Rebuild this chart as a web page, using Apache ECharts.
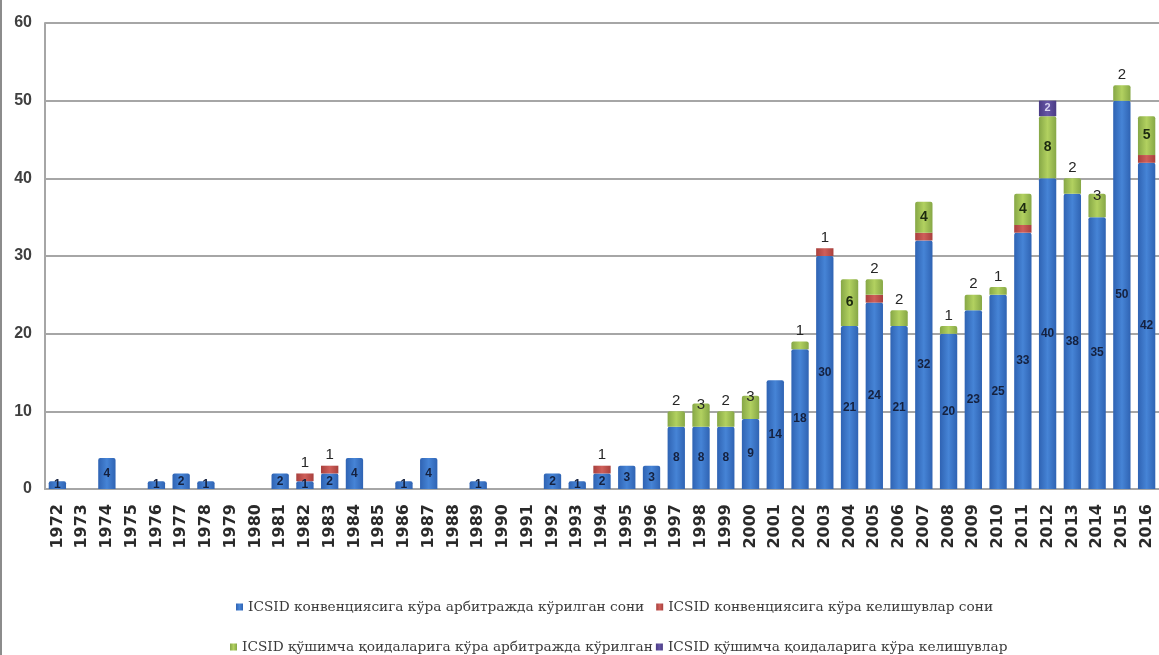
<!DOCTYPE html>
<html>
<head>
<meta charset="utf-8">
<script src="https://cdn.jsdelivr.net/npm/echarts@6/dist/echarts.min.js"></script>
<style>
  html, body { margin: 0; padding: 0; background: #ffffff; }
  #chart { width: 1159px; height: 655px; }
  #frame { position: absolute; left: 0; top: 0; width: 2px; height: 655px; background: #8c8c8c; }
</style>
</head>
<body>
<div id="chart"></div>
<div id="frame"></div>
<script>
// Years on the category axis
const years = ['1972','1973','1974','1975','1976','1977','1978','1979','1980','1981',
  '1982','1983','1984','1985','1986','1987','1988','1989','1990','1991',
  '1992','1993','1994','1995','1996','1997','1998','1999','2000','2001',
  '2002','2003','2004','2005','2006','2007','2008','2009','2010','2011',
  '2012','2013','2014','2015','2016'];

// Series names
const seriesNames = [
  'ICSID конвенциясига кўра арбитражда кўрилган сони',
  'ICSID конвенциясига кўра келишувлар сони',
  'ICSID қўшимча қоидаларига кўра арбитражда кўрилган',
  'ICSID қўшимча қоидаларига кўра келишувлар'
];

// Cases heard under the ICSID Convention
const conventionArbitration = [1,0,4,0,1,2,1,0,0,2, 1,2,4,0,1,4,0,1,0,0,
  2,1,2,3,3,8,8,8,9,14, 18,30,21,24,21,32,20,23,25,33, 40,38,35,50,42];
// Settlements under the ICSID Convention
const conventionSettlements = [0,0,0,0,0,0,0,0,0,0, 1,1,0,0,0,0,0,0,0,0,
  0,0,1,0,0,0,0,0,0,0, 0,1,0,1,0,1,0,0,0,1, 0,0,0,0,1];
// Cases heard under the Additional Facility Rules
const additionalArbitration = [0,0,0,0,0,0,0,0,0,0, 0,0,0,0,0,0,0,0,0,0,
  0,0,0,0,0,2,3,2,3,0, 1,0,6,2,2,4,1,2,1,4, 8,2,3,2,5];
// Settlements under the Additional Facility Rules
const additionalSettlements = [0,0,0,0,0,0,0,0,0,0, 0,0,0,0,0,0,0,0,0,0,
  0,0,0,0,0,0,0,0,0,0, 0,0,0,0,0,0,0,0,0,0, 2,0,0,0,0];

const allSeries = [conventionArbitration, conventionSettlements, additionalArbitration, additionalSettlements];

// Is series k the highest non-empty segment of column i?
function isTop(k, i) {
  for (let j = k + 1; j < allSeries.length; j++) if (allSeries[j][i] > 0) return false;
  return true;
}

const topLabel = {
  show: true, position: 'top', distance: 3,
  color: '#262626', fontSize: 15, fontFamily: 'Liberation Sans'
};

function hbar(c1, c2) {
  return new echarts.graphic.LinearGradient(0, 0, 1, 0, [
    { offset: 0, color: c1 }, { offset: 0.5, color: c2 }, { offset: 1, color: c1 }
  ]);
}

const blueData = conventionArbitration.map(v => v > 0 ? v : '-');
const redData = conventionSettlements.map((v, i) => {
  if (!(v > 0)) return '-';
  return isTop(1, i) ? { value: v, label: topLabel } : { value: v, label: { show: false } };
});
const greenData = additionalArbitration.map(v => {
  if (!(v > 0)) return '-';
  if (v >= 4) return { value: v, label: { show: true, position: 'inside', color: '#1c2a10', fontSize: 14, fontWeight: 'bold' } };
  if (v === 3) return { value: v, label: Object.assign({}, topLabel, { position: 'insideTop', offset: [0, -9] }) };
  return { value: v, label: topLabel };
});
const purpleData = additionalSettlements.map(v => v > 0 ? v : '-');

const legendText = { fontFamily: 'DejaVu Serif', fontSize: 13.7, color: '#3a3a3a' };

const chart = echarts.init(document.getElementById('chart'));
chart.setOption({
  animation: false,
  backgroundColor: '#ffffff',
  grid: { left: 45, top: 23, width: 1116, height: 466, containLabel: false },
  legend: [
    {
      data: [seriesNames[0], seriesNames[1]],
      top: 595, left: 231, itemWidth: 7, itemHeight: 7, itemGap: 12,
      icon: 'rect', textStyle: legendText
    },
    {
      data: [seriesNames[2], seriesNames[3]],
      top: 635, left: 225, itemWidth: 7, itemHeight: 7, itemGap: 3,
      icon: 'rect', textStyle: legendText
    }
  ],
  xAxis: {
    type: 'category',
    data: years,
    axisLine: { show: true, lineStyle: { color: '#a6a6a6', width: 2 } },
    axisTick: { show: false },
    axisLabel: {
      rotate: 90, margin: 15, interval: 0,
      color: '#2a2a2a', fontSize: 16, fontWeight: 'bold', fontFamily: 'DejaVu Sans'
    }
  },
  yAxis: {
    type: 'value',
    min: 0, max: 60, interval: 10,
    axisLine: { show: true, lineStyle: { color: '#a6a6a6', width: 2 } },
    axisTick: { show: false },
    splitLine: { lineStyle: { color: '#a6a6a6', width: 2 } },
    axisLabel: {
      margin: 13, color: '#404040', fontSize: 16, fontWeight: 'bold', fontFamily: 'Liberation Sans'
    }
  },
  series: [
    {
      name: seriesNames[0], type: 'bar', stack: 'cases', barWidth: '70%',
      data: blueData,
      itemStyle: { color: hbar('#2f63b3', '#4684d6'), borderRadius: [2, 2, 0, 0] },
      label: { show: true, position: 'inside', color: '#15213f', fontSize: 12, fontWeight: 'bold', fontFamily: 'Liberation Sans' }
    },
    {
      name: seriesNames[1], type: 'bar', stack: 'cases',
      data: redData,
      itemStyle: { color: hbar('#a8403d', '#cf5f5a') }
    },
    {
      name: seriesNames[2], type: 'bar', stack: 'cases',
      data: greenData,
      itemStyle: { color: hbar('#86a746', '#b2d160'), borderRadius: [2, 2, 0, 0] }
    },
    {
      name: seriesNames[3], type: 'bar', stack: 'cases',
      data: purpleData,
      itemStyle: { color: hbar('#4a3b85', '#6656a6') },
      label: { show: true, position: 'inside', color: '#d8d4f0', fontSize: 11, fontWeight: 'bold' }
    }
  ]
});
</script>
</body>
</html>
